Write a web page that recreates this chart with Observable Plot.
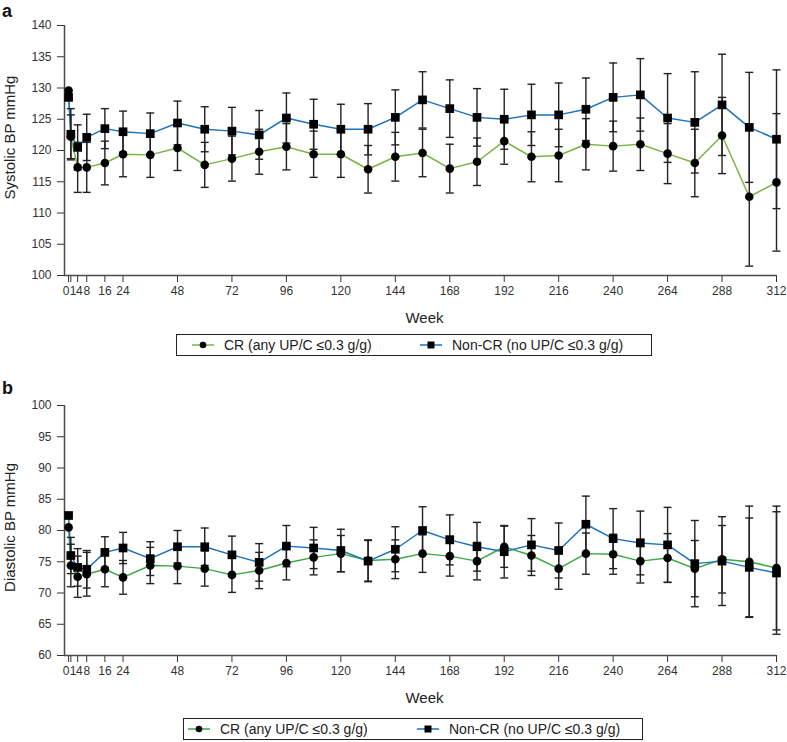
<!DOCTYPE html>
<html>
<head>
<meta charset="utf-8">
<script src="https://cdn.jsdelivr.net/npm/d3@7"></script>
<script src="https://cdn.jsdelivr.net/npm/@observablehq/plot@0.6"></script>
<style>
  body { margin: 0; background: #fff; font-family: "Liberation Sans", Arial, sans-serif; }
  #root { position: relative; width: 787px; height: 742px; overflow: hidden; }
  .panel { position: absolute; left: 0; }
  .tag { position: absolute; left: 2px; font-weight: bold; font-size: 18px; line-height: 20px; color: #111; }
  .legend { position: absolute; box-sizing: border-box; border: 1.3px solid #222; height: 22px;
            display: flex; align-items: center; font-size: 14px; color: #222; white-space: nowrap; }
  .legend .item { position: absolute; display: flex; align-items: center; }
  .legend svg { display: block; }
</style>
</head>
<body>
<div id="root"></div>
<script>
// ---- data ----
const weeks = [0, 1, 4, 8, 16, 24, 36, 48, 60, 72, 84, 96, 108, 120, 132, 144, 156, 168, 180, 192, 204, 216, 228, 240, 252, 264, 276, 288, 300, 312];
const xTicks = [0, 1, 4, 8, 16, 24, 48, 72, 96, 120, 144, 168, 192, 216, 240, 264, 288, 312];
// the three crowded labels near the origin are drawn separately
const crowdedTicks = [0, 1, 4];

const seriesNames = ["CR (any UP/C \u22640.3 g/g)", "Non-CR (no UP/C \u22640.3 g/g)"];

// Systolic BP (panel a)
const sysCR    = [129.6, 122.2, 117.3, 117.3, 118.0, 119.4, 119.3, 120.4, 117.7, 118.7, 119.8, 120.6, 119.4, 119.4, 117.0, 119.0, 119.6, 117.1, 118.2, 121.5, 119.0, 119.2, 121.0, 120.7, 121.0, 119.5, 118.0, 122.4, 112.6, 114.9];
const sysCRErr = [0, 3.5, 4.0, 4.0, 3.5, 3.6, 3.6, 3.6, 3.6, 3.6, 3.6, 3.7, 3.7, 3.7, 3.8, 3.9, 3.8, 3.9, 3.8, 3.7, 4.0, 4.2, 4.1, 4.0, 4.2, 4.8, 5.4, 6.1, 11.1, 11.0];
const sysNon    = [128.5, 122.6, 120.5, 122.1, 123.5, 123.0, 122.7, 124.4, 123.4, 123.1, 122.5, 125.2, 124.2, 123.4, 123.4, 125.3, 128.1, 126.7, 125.3, 125.0, 125.7, 125.7, 126.6, 128.5, 128.9, 125.2, 124.5, 127.3, 123.7, 121.8];
const sysNonErr = [0, 4.1, 3.6, 3.7, 3.2, 3.3, 3.3, 3.5, 3.6, 3.8, 3.9, 4.0, 4.0, 4.0, 4.1, 4.4, 4.5, 4.6, 4.6, 4.8, 4.9, 5.1, 5.0, 5.5, 5.8, 7.1, 8.1, 8.1, 8.8, 11.1];

// Diastolic BP (panel b)
const diaCR    = [80.5, 74.4, 72.6, 73.0, 73.8, 72.5, 74.4, 74.3, 73.9, 72.9, 73.6, 74.8, 75.7, 76.3, 75.2, 75.4, 76.3, 75.9, 75.1, 77.4, 76.0, 73.9, 76.3, 76.2, 75.1, 75.6, 73.9, 75.4, 75.0, 74.0];
const diaCRErr = [0, 3.4, 3.3, 3.5, 2.8, 2.7, 2.9, 2.8, 2.8, 2.8, 2.9, 2.7, 2.8, 2.9, 3.3, 3.1, 3.0, 3.2, 3.0, 3.3, 3.2, 3.3, 3.3, 3.2, 3.5, 3.9, 4.5, 5.4, 8.9, 9.9];
const diaNon    = [82.4, 76.0, 74.1, 73.8, 76.5, 77.2, 75.5, 77.4, 77.4, 76.1, 74.9, 77.5, 77.2, 76.8, 75.1, 77.0, 80.0, 78.5, 77.4, 76.6, 77.7, 76.8, 81.0, 78.7, 78.0, 77.7, 74.7, 75.1, 74.1, 73.2];
const diaNonErr = [0, 2.9, 3.0, 3.0, 2.5, 2.5, 2.7, 2.6, 3.0, 3.0, 3.0, 3.3, 3.3, 3.4, 3.3, 3.6, 3.8, 4.0, 3.9, 4.2, 4.2, 4.4, 4.5, 4.8, 5.1, 6.0, 6.9, 7.1, 7.9, 9.8];

const sysTicks = [100, 105, 110, 115, 120, 125, 130, 135, 140];
const diaTicks = [60, 65, 70, 75, 80, 85, 90, 95, 100];

// ---- styling ----
const BLUE = "#1c72bd";
const GREEN_A = "#79b443";
const GREEN_B = "#3aa845";
const INK = "#222";
const AXIS = "#4a4a4a";
const FONT = '"Liberation Sans", Arial, sans-serif';
const xMin = -1.8;
const crowdedDx = [-2.6, 2.3, 1.6];

const capSymbol = {
  draw(ctx, size) {
    const w = Math.sqrt(size / Math.PI);
    ctx.moveTo(-w, 0);
    ctx.lineTo(w, 0);
  }
};

function panel({cr, crErr, non, nonErr, yTicks, yLabel, green, labelDy}) {
  const yDomain = [yTicks[0], yTicks[yTicks.length - 1]];
  const rows = weeks.map((w, i) => ({week: w, cr: cr[i], crErr: crErr[i], non: non[i], nonErr: nonErr[i]}));
  const bars = [];
  for (const r of rows) {
    if (r.crErr > 0) bars.push({week: r.week, lo: r.cr - r.crErr, hi: r.cr + r.crErr});
    if (r.nonErr > 0) bars.push({week: r.week, lo: r.non - r.nonErr, hi: r.non + r.nonErr});
  }
  const caps = bars.flatMap(b => [{week: b.week, v: b.lo}, {week: b.week, v: b.hi}]);
  const crowdedMarks = crowdedTicks.map((t, i) =>
    Plot.text([t], {x: d => d, text: d => String(d), frameAnchor: "bottom", lineAnchor: "top",
                    dy: 11, dx: crowdedDx[i], fontSize: 12, fill: "#333"}));
  return Plot.plot({
    width: 787,
    height: 325,
    marginLeft: 64,
    marginRight: 11,
    marginTop: 25,
    marginBottom: 50,
    style: {fontFamily: FONT, fontSize: "12px", color: "#333", background: "transparent", overflow: "visible"},
    x: {domain: [xMin, 312], ticks: xTicks, tickSize: 7, tickPadding: 4, label: null,
        tickFormat: d => crowdedTicks.includes(d) ? "" : String(d)},
    y: {domain: yDomain, ticks: yTicks, tickSize: 7, tickPadding: 6, label: null},
    marks: [
      Plot.ruleX([xMin], {stroke: AXIS, strokeWidth: 1.5}),
      Plot.ruleY([yDomain[0]], {stroke: AXIS, strokeWidth: 1.5}),
      Plot.line(rows, {x: "week", y: "cr", stroke: green, strokeWidth: 1.5}),
      Plot.line(rows, {x: "week", y: "non", stroke: BLUE, strokeWidth: 1.5}),
      Plot.ruleX(bars, {x: "week", y1: "lo", y2: "hi", stroke: INK, strokeWidth: 1.4}),
      Plot.dot(caps, {x: "week", y: "v", symbol: capSymbol, r: 4, stroke: INK, strokeWidth: 1.4, fill: "none"}),
      Plot.dot(rows, {x: "week", y: "cr", symbol: "circle", r: 4.3, fill: "#000", stroke: "none"}),
      Plot.dot(rows, {x: "week", y: "non", symbol: "square", r: 4.9, fill: "#000", stroke: "none"}),
      ...crowdedMarks,
      Plot.text(["Week"], {frameAnchor: "bottom", lineAnchor: "middle", dy: 43, dx: 4, fontSize: 15, fill: "#222"}),
      Plot.text([yLabel], {frameAnchor: "left", textAnchor: "middle", lineAnchor: "middle", rotate: -90, dx: -54, dy: labelDy, fontSize: 15, fill: "#222"})
    ]
  });
}

function legend(top, left, width, green, pos) {
  const div = document.createElement("div");
  div.className = "legend";
  div.style.top = top + "px";
  div.style.left = left + "px";
  div.style.width = width + "px";
  const mk = (color, shape, name, x) => {
    const it = document.createElement("div");
    it.className = "item";
    it.style.left = x + "px";
    const ns = "http://www.w3.org/2000/svg";
    const svg = document.createElementNS(ns, "svg");
    svg.setAttribute("width", 22); svg.setAttribute("height", 12);
    const ln = document.createElementNS(ns, "line");
    ln.setAttribute("x1", 0); ln.setAttribute("x2", 22); ln.setAttribute("y1", 6); ln.setAttribute("y2", 6);
    ln.setAttribute("stroke", color); ln.setAttribute("stroke-width", 1.5);
    svg.appendChild(ln);
    let m;
    if (shape === "circle") {
      m = document.createElementNS(ns, "circle");
      m.setAttribute("cx", 11); m.setAttribute("cy", 6); m.setAttribute("r", 3.3);
    } else {
      m = document.createElementNS(ns, "rect");
      m.setAttribute("x", 7.5); m.setAttribute("y", 2.5); m.setAttribute("width", 7); m.setAttribute("height", 7);
    }
    m.setAttribute("fill", "#000");
    svg.appendChild(m);
    it.appendChild(svg);
    const t = document.createElement("span");
    t.textContent = name;
    t.style.marginLeft = "10px";
    it.appendChild(t);
    div.appendChild(it);
  };
  mk(green, "circle", seriesNames[0], pos[0]);
  mk(BLUE, "square", seriesNames[1], pos[1]);
  return div;
}

const root = document.getElementById("root");

function addPanel(top, tag, chart) {
  const wrap = document.createElement("div");
  wrap.className = "panel";
  wrap.style.top = top + "px";
  wrap.appendChild(chart);
  root.appendChild(wrap);
  const t = document.createElement("div");
  t.className = "tag";
  t.style.top = Math.max(top - 2, 1) + "px";
  t.textContent = tag;
  root.appendChild(t);
}

addPanel(0, "a", panel({cr: sysCR, crErr: sysCRErr, non: sysNon, nonErr: sysNonErr, yTicks: sysTicks, yLabel: "Systolic BP mmHg", green: GREEN_A, labelDy: -13}));
root.appendChild(legend(334, 176, 476, GREEN_A, [15, 243]));
addPanel(380, "b", panel({cr: diaCR, crErr: diaCRErr, non: diaNon, nonErr: diaNonErr, yTicks: diaTicks, yLabel: "Diastolic BP mmHg", green: GREEN_B, labelDy: -3}));
root.appendChild(legend(718, 183, 460, GREEN_B, [4, 233]));
</script>
</body>
</html>
